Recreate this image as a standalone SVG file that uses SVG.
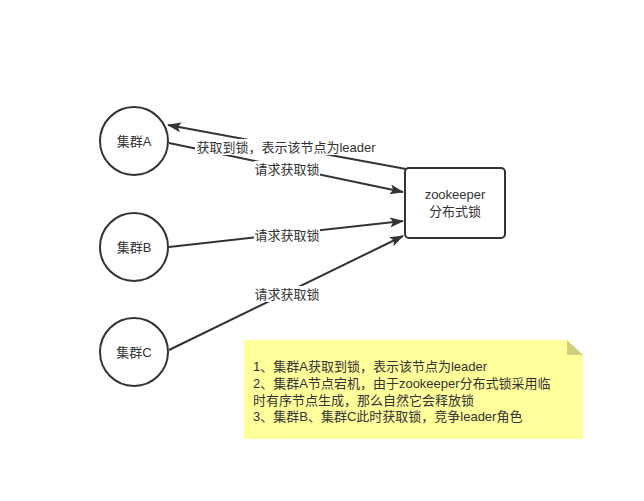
<svg xmlns="http://www.w3.org/2000/svg" width="644" height="501" viewBox="0 0 644 501">
<style>
.n{fill:#fff;stroke:#333;stroke-width:2}
.e{stroke:#333;stroke-width:2;fill:none}
.t{font-family:"Liberation Sans","Noto Sans CJK SC",sans-serif;font-size:13px;fill:#333}
.lb{fill:#fff}
</style>
<defs>
<marker id="ah" viewBox="0 0 14 10" refX="13" refY="5" markerWidth="14" markerHeight="10" markerUnits="userSpaceOnUse" orient="auto">
<path d="M0,0 L14,5 L0,10 L3,5 Z" fill="#333"/>
</marker>
</defs>
<rect width="644" height="501" fill="#fff"/>
<g id="connectors">
<path class="e" d="M406,169 L168,125" marker-end="url(#ah)"/>
<path class="e" d="M169,143 L403,192" marker-end="url(#ah)"/>
<path class="e" d="M169,247 L403,221" marker-end="url(#ah)"/>
<path class="e" d="M169,350 L403,236" marker-end="url(#ah)"/>
<rect class="lb" x="195" y="139" width="183" height="16"/>
<text class="t" x="286" y="152" text-anchor="middle">获取到锁，表示该节点为leader</text>
<rect class="lb" x="254" y="161" width="66" height="16"/>
<text class="t" x="287" y="174" text-anchor="middle">请求获取锁</text>
<rect class="lb" x="254" y="227" width="66" height="16"/>
<text class="t" x="287" y="240" text-anchor="middle">请求获取锁</text>
<rect class="lb" x="254" y="286" width="66" height="16"/>
<text class="t" x="287" y="299" text-anchor="middle">请求获取锁</text>
</g>
<g id="nodeA">
<circle class="n" cx="134" cy="141" r="34"/>
<text class="t" x="134" y="146" text-anchor="middle">集群A</text>
</g>
<g id="nodeB">
<circle class="n" cx="134" cy="247" r="34"/>
<text class="t" x="134" y="252" text-anchor="middle">集群B</text>
</g>
<g id="nodeC">
<circle class="n" cx="134" cy="352" r="34"/>
<text class="t" x="134" y="357" text-anchor="middle">集群C</text>
</g>
<g id="zk">
<rect class="n" x="405" y="168" width="100" height="70" rx="4"/>
<text class="t" x="455" y="199" text-anchor="middle">zookeeper</text>
<text class="t" x="455" y="216" text-anchor="middle">分布式锁</text>
</g>
<g id="note">
<path d="M244,340 L567,340 L583,355 L583,439 L244,439 Z" fill="#ffff9c"/>
<path d="M567,340 L583,355 L567,355 Z" fill="#cfcf7c"/>
<text class="t" x="253" y="371">1、集群A获取到锁，表示该节点为leader</text>
<text class="t" x="253" y="388">2、集群A节点宕机，由于zookeeper分布式锁采用临</text>
<text class="t" x="253" y="405">时有序节点生成，那么自然它会释放锁</text>
<text class="t" x="253" y="421">3、集群B、集群C此时获取锁，竞争leader角色</text>
</g>
</svg>
